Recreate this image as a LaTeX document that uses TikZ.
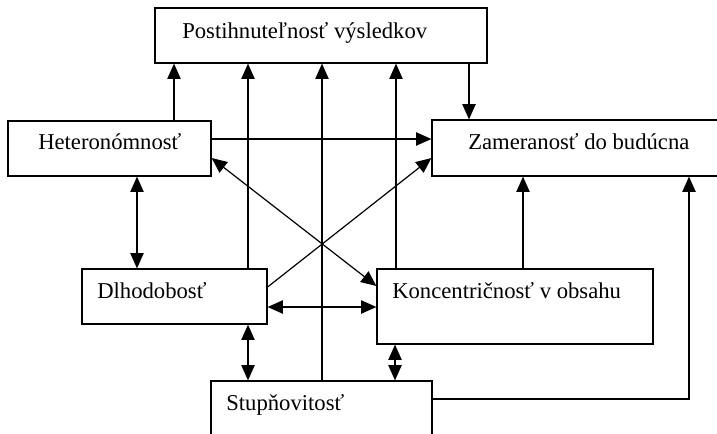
\documentclass[tikz,border=0pt]{standalone}
\usepackage{fontspec}
\setmainfont{Liberation Serif}
\usetikzlibrary{arrows.meta,fit}

\begin{document}
\begin{tikzpicture}[x=0.75pt, y=-0.75pt,
		box/.style={draw, line width=0.9pt, inner sep=0pt},
		txt/.style={anchor=base west, inner sep=0pt, font=\fontsize{17}{20}\selectfont},
		arr/.style={line width=0.9pt, -{Triangle[length=11.5pt,width=10pt]}},
		darr/.style={line width=0.9pt, {Triangle[length=11.5pt,width=10pt]}-{Triangle[length=11.5pt,width=10pt]}}]
	\clip (0,0) rectangle (717,433);
	
	% Boxes
	\node[box, fit={(155,8) (487,63)}] (post) {};
	\node[box, fit={(8,121) (211,176)}] (het) {};
	\node[box, fit={(432,120) (730,176)}] (zam) {};
	\node[box, fit={(82,269) (267,324)}] (dlh) {};
	\node[box, fit={(377,269) (653,344)}] (kon) {};
	\node[box, fit={(211,381) (432,450)}] (stu) {};
	
	% Labels
	\node[txt] (postT) at (182,38) {Postihnuteľnosť výsledkov};
	\node[txt] (hetT) at (38,149) {Heteronómnosť};
	\node[txt] (zamT) at (468,149) {Zameranosť do budúcna};
	\node[txt] (dlhT) at (97,298) {Dlhodobosť};
	\node[txt] (konT) at (392,298) {Koncentričnosť v obsahu};
	\node[txt] (stuT) at (226,410) {Stupňovitosť};
	
	% Arrows to the top box
	\draw[arr] (174,0 |- het.north) -- (174,0 |- post.south);
	\draw[arr] (248,0 |- dlh.north) -- (248,0 |- post.south);
	\draw[arr] (322,0 |- stu.north) -- (322,0 |- post.south);
	\draw[arr] (396,0 |- kon.north) -- (396,0 |- post.south);
	\draw[arr] (469,0 |- post.south) -- (469,0 |- zam.north);
	
	% Arrows to Zameranost
	\draw[arr] (het.east |- 0,139) -- (zam.west |- 0,139);
	\draw[arr] (dlh.east |- 0,287) -- (zam.west |- 0,158);
	\draw[arr] (523,0 |- kon.north) -- (523,0 |- zam.south);
	\draw[arr] (stu.east |- 0,399) -| (689,0 |- zam.south);
	
	% Two-way arrows
	\draw[darr] (het.east |- 0,158) -- (kon.west |- 0,286);
	\draw[darr] (137,0 |- het.south) -- (137,0 |- dlh.north);
	\draw[darr] (dlh.east |- 0,307) -- (kon.west |- 0,307);
	\draw[darr] (248,0 |- dlh.south) -- (248,0 |- stu.north);
	\draw[darr] (395,0 |- kon.south) -- (395,0 |- stu.north);
\end{tikzpicture}
\end{document}
